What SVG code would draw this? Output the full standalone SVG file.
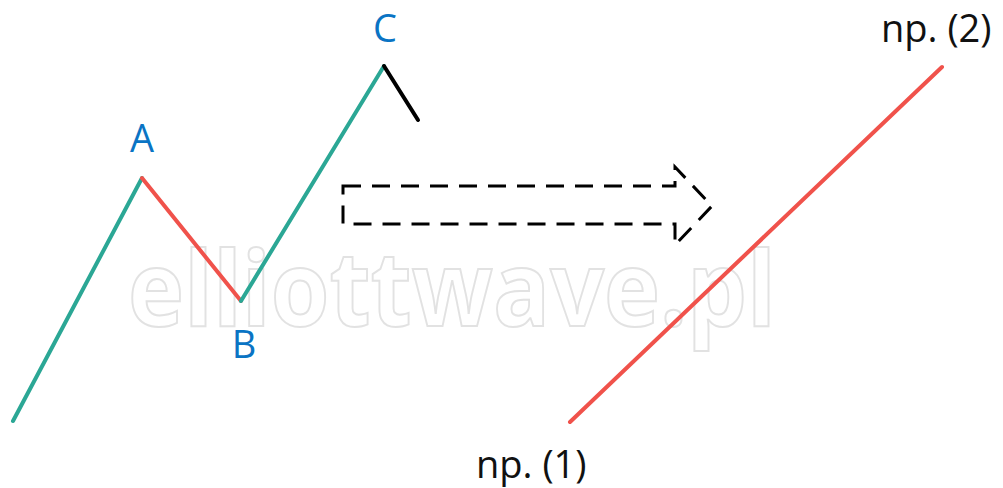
<svg xmlns="http://www.w3.org/2000/svg" width="1003" height="488" viewBox="0 0 1003 488">
<style>
.lbl{font-family:"Open Sans","Liberation Sans",sans-serif;font-size:38px}
.blue{fill:#0a74c4}
.blk{fill:#111}
.teal{stroke:#2ba795;stroke-width:4;fill:none;stroke-linecap:round;stroke-linejoin:round}
.red{stroke:#f0524b;stroke-width:4;fill:none;stroke-linecap:round;stroke-linejoin:round}
</style>
<rect width="1003" height="488" fill="#fff"/>
<text x="128" y="326" textLength="648" lengthAdjust="spacingAndGlyphs" font-family="Open Sans, Liberation Sans, sans-serif" font-weight="bold" font-size="104" fill="#fff" stroke="#e2e2e2" stroke-width="2">elliottwave.pl</text>
<g id="connectors">
<polyline class="teal" points="13,421 142,178"/>
<polyline class="red" points="142,178 241,301"/>
<polyline class="teal" points="241,301 384,66"/>
<line x1="384" y1="66" x2="418" y2="120" stroke="#000" stroke-width="4" stroke-linecap="round"/>
<line class="red" x1="570" y1="422" x2="942" y2="67"/>
<path d="M343,186 H675 V167 L712,206 L675,245 V224 H343 Z" fill="none" stroke="#000" stroke-width="3" stroke-dasharray="18,11"/>
</g>
<g id="A"><text class="lbl blue" x="142" y="152" text-anchor="middle">A</text></g>
<g id="B"><text class="lbl blue" x="244" y="358" text-anchor="middle">B</text></g>
<g id="C"><text class="lbl blue" x="385" y="42" text-anchor="middle">C</text></g>
<g id="np2"><text class="lbl blk" x="881" y="42">np. (2)</text></g>
<g id="np1"><text class="lbl blk" x="476" y="478">np. (1)</text></g>
</svg>
